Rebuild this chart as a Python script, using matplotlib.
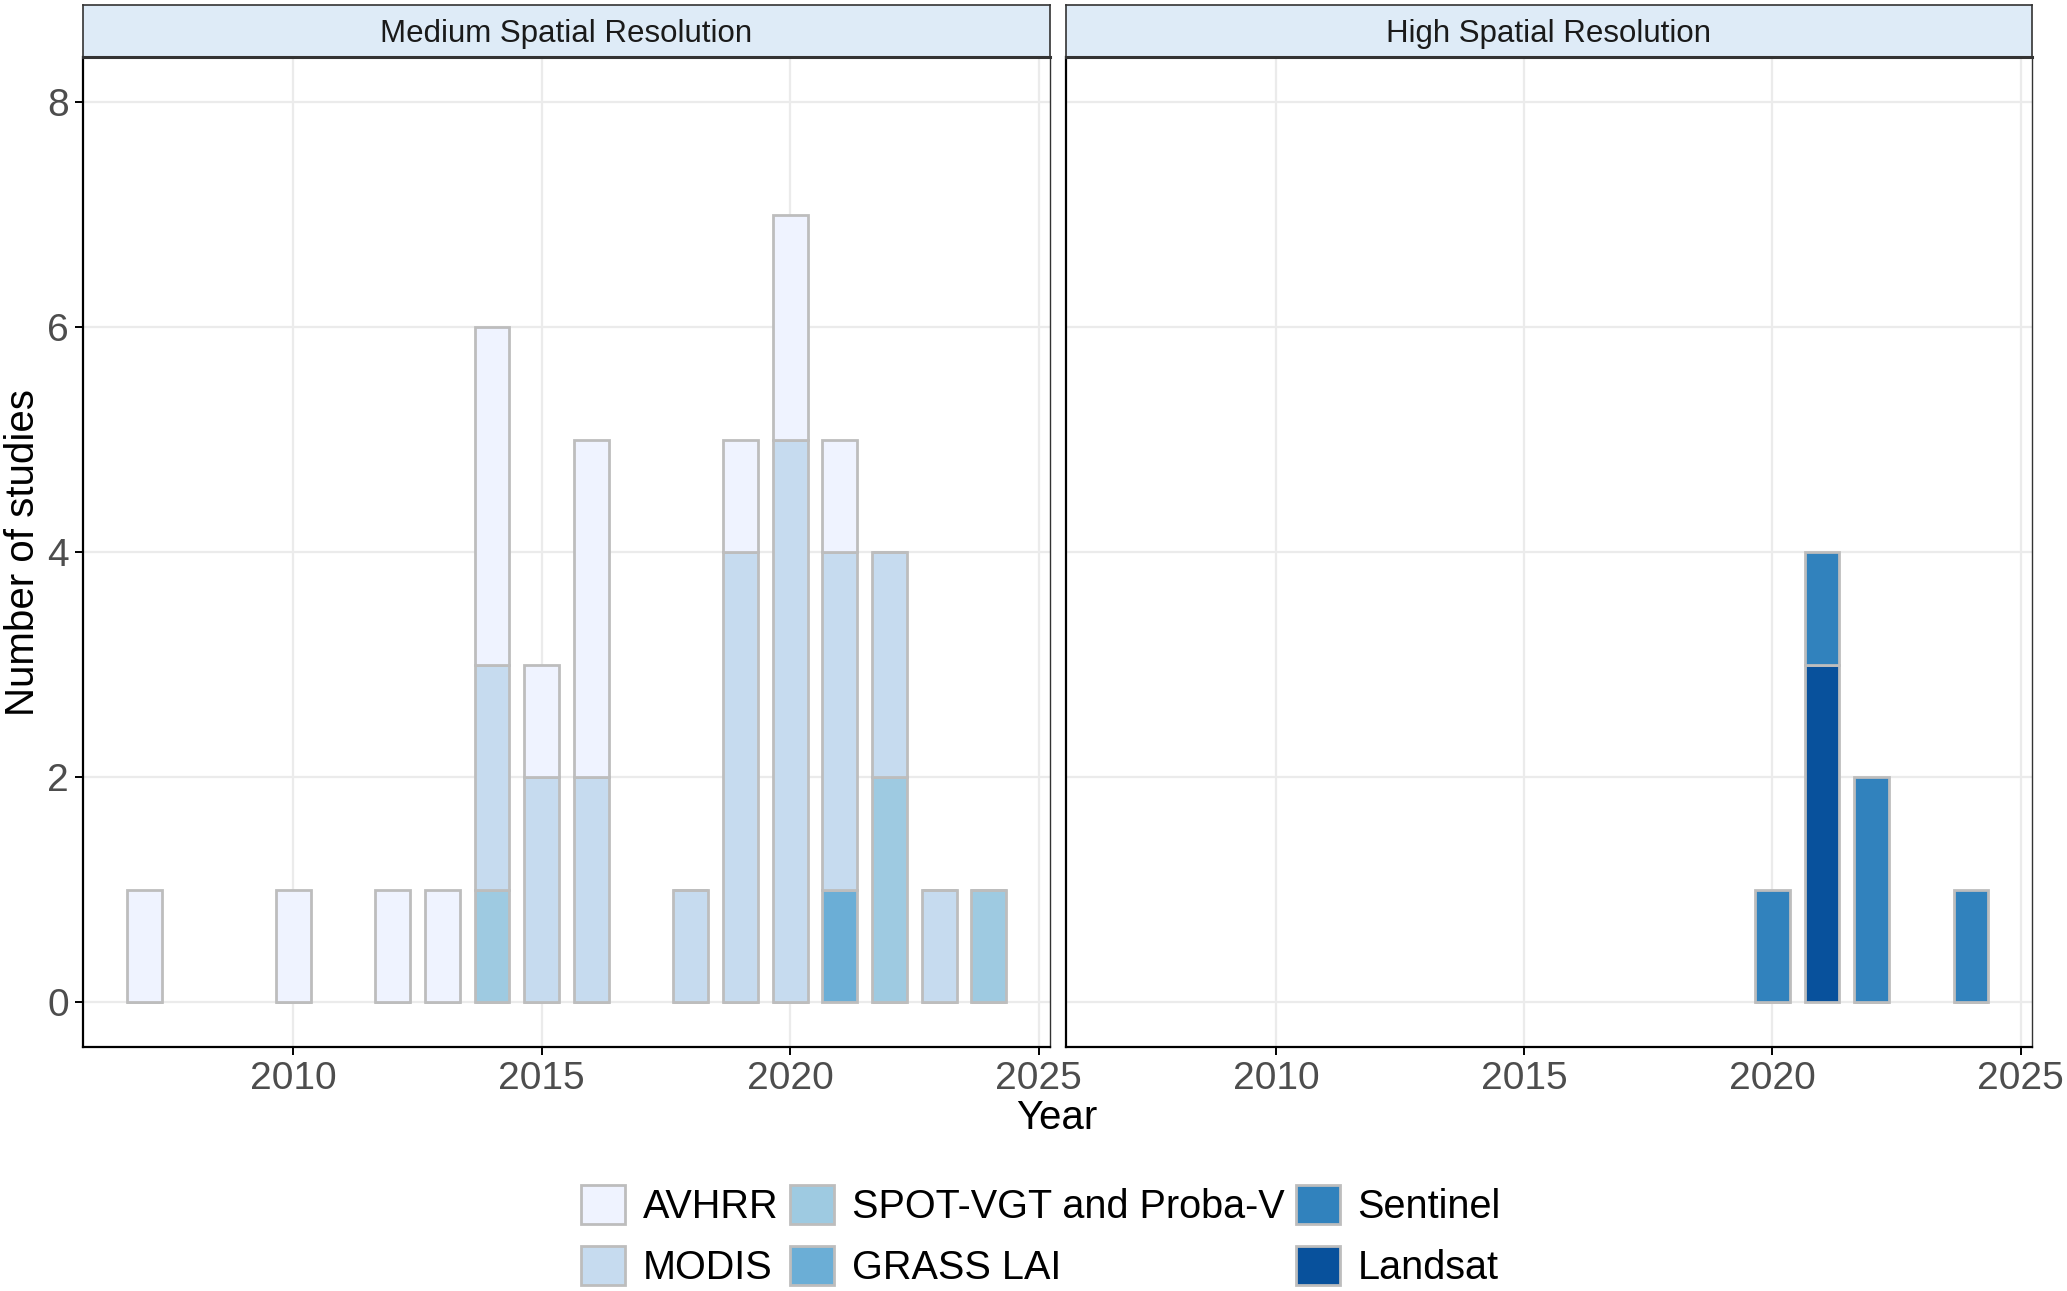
import matplotlib
matplotlib.use("Agg")
import matplotlib.pyplot as plt
from matplotlib.patches import Patch
import numpy as np

plt.rcParams['font.family'] = ['Liberation Sans', 'DejaVu Sans']

# data
sensors = ['AVHRR', 'MODIS', 'SPOT-VGT and Proba-V', 'GRASS LAI', 'Sentinel', 'Landsat']
colors = ['#EFF3FF', '#C6DBEF', '#9ECAE1', '#6BAED6', '#3182BD', '#08519C']

med_years = [2007, 2010, 2012, 2013, 2014, 2015, 2016, 2018, 2019, 2020, 2021, 2022, 2023, 2024]
med_avhrr = [1, 1, 1, 1, 3, 1, 3, 0, 1, 2, 1, 0, 0, 0]
med_modis = [0, 0, 0, 0, 2, 2, 2, 1, 4, 5, 3, 2, 1, 0]
med_spot = [0, 0, 0, 0, 1, 0, 0, 0, 0, 0, 0, 2, 0, 1]
med_grass = [0, 0, 0, 0, 0, 0, 0, 0, 0, 0, 1, 0, 0, 0]

high_years = [2020, 2021, 2022, 2024]
high_sentinel = [1, 1, 2, 1]
high_landsat = [0, 3, 0, 0]

panels = [
    ('Medium Spatial Resolution', med_years,
     {'AVHRR': med_avhrr, 'MODIS': med_modis,
      'SPOT-VGT and Proba-V': med_spot, 'GRASS LAI': med_grass}),
    ('High Spatial Resolution', high_years,
     {'Sentinel': high_sentinel, 'Landsat': high_landsat}),
]

W, H = 2067, 1291
fig = plt.figure(figsize=(W / 100, H / 100), dpi=100)

edge = '#BDBDBD'
lefts = [83, 1066]
rights = [1050, 2032]
top, bottom = 57, 1047

for i, (title, years, series) in enumerate(panels):
    l, r = lefts[i], rights[i]
    ax = fig.add_axes([l / W, 1 - bottom / H, (r - l) / W, (bottom - top) / H])
    base = np.zeros(len(years))
    # stack from bottom: reverse of legend order
    for name, col in reversed(list(zip(sensors, colors))):
        if name not in series:
            continue
        vals = np.array(series[name], dtype=float)
        ax.bar(years, vals, width=0.7, bottom=base, color=col,
               edgecolor=edge, linewidth=2.0, zorder=3)
        base += vals

    ax.set_xlim(2005.77, 2025.23)
    ax.set_ylim(-0.4, 8.4)
    ax.set_xticks([2010, 2015, 2020, 2025])
    ax.set_yticks([0, 2, 4, 6, 8])
    ax.grid(True, color='#EBEBEB', linewidth=1.6, zorder=0)
    ax.set_axisbelow(True)
    for s in ['top', 'right']:
        ax.spines[s].set_color('#333333')
        ax.spines[s].set_linewidth(1.0)
    for s in ['left', 'bottom']:
        ax.spines[s].set_color('black')
        ax.spines[s].set_linewidth(1.6)
    ax.tick_params(axis='x', labelsize=28, labelcolor='#4D4D4D', length=6,
                   width=1.4, color='black', pad=4)
    ax.tick_params(axis='y', labelsize=28, labelcolor='#4D4D4D', length=6,
                   width=1.4, color='black', pad=4)
    if i == 1:
        ax.tick_params(axis='y', left=False, labelleft=False)

    # facet strip
    sax = fig.add_axes([l / W, 1 - top / H, (r - l) / W, (top - 5) / H])
    sax.set_xticks([])
    sax.set_yticks([])
    sax.set_facecolor('#DEEBF7')
    for s in sax.spines.values():
        s.set_color('#333333')
        s.set_linewidth(1.2)
    sax.spines['bottom'].set_linewidth(2.2)
    sax.text(0.5, 0.45, title, ha='center', va='center', fontsize=22.5,
             color='#1A1A1A', transform=sax.transAxes)

fig.text(23 / W, 1 - 552 / H, 'Number of studies', rotation=90, ha='center',
         va='center', fontsize=29)
fig.text(1057 / W, 1 - 1118 / H, 'Year', ha='center', va='center', fontsize=29)

handles = [Patch(facecolor=c, edgecolor=edge, linewidth=2.0) for c in colors]
fig.legend(handles, sensors, loc='center', bbox_to_anchor=(1041 / W, 1 - 1236 / H),
           ncol=3, frameon=False, fontsize=28.5, handlelength=1.1, handleheight=1.15,
           handletextpad=0.45, columnspacing=0.3, labelspacing=0.5,
           borderpad=0.1)

fig.savefig('out.png', dpi=100)
